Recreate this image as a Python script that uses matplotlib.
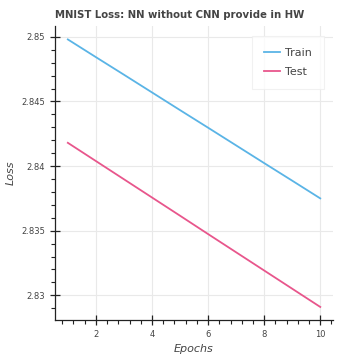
import matplotlib
matplotlib.use("Agg")
import matplotlib.pyplot as plt
from matplotlib.ticker import MultipleLocator

# loss per epoch
epochs = [1, 2, 3, 4, 5, 6, 7, 8, 9, 10]
train_loss = [2.8498, 2.84843, 2.84707, 2.8457, 2.84433, 2.84297, 2.8416, 2.84023, 2.83887, 2.8375]
test_loss = [2.8418, 2.84039, 2.83898, 2.83757, 2.83616, 2.83474, 2.83333, 2.83192, 2.83051, 2.8291]

fig = plt.figure(figsize=(3.59, 3.59), dpi=100)
ax = fig.add_axes([0.153, 0.109, 0.775, 0.819])

ax.plot(epochs, train_loss, color='#5ab4e6', lw=1.3, label='Train')
ax.plot(epochs, test_loss, color='#e8568c', lw=1.3, label='Test')

ax.set_xlim(0.54, 10.46)
ax.set_ylim(2.8281, 2.85085)
ax.xaxis.set_major_locator(MultipleLocator(2))
ax.xaxis.set_minor_locator(MultipleLocator(0.4))
ax.yaxis.set_minor_locator(MultipleLocator(0.001))
ax.set_yticks([2.83, 2.835, 2.84, 2.845, 2.85])
ax.set_yticklabels(['2.83', '2.835', '2.84', '2.845', '2.85'])

ax.grid(True, which='major', color='#e9e9e9', lw=0.8)
ax.set_axisbelow(True)
for s in ['top', 'right']:
    ax.spines[s].set_visible(False)
for s in ['left', 'bottom']:
    ax.spines[s].set_color('#222222')
    ax.spines[s].set_linewidth(0.9)

ax.tick_params(which='major', direction='inout', length=7, width=0.9,
               labelsize=6, labelcolor='#444444', color='#222222')
ax.tick_params(which='minor', direction='out', length=3, width=0.8, color='#222222')

ax.set_title('MNIST Loss: NN without CNN provide in HW', fontsize=7.3,
             fontweight='bold', color='#444444', loc='left', pad=6)
ax.set_xlabel('Epochs', fontsize=8, style='italic', color='#444444')
ax.set_ylabel('Loss', fontsize=8, style='italic', color='#444444')

leg = ax.legend(loc='upper right', fontsize=8, frameon=True, fancybox=False,
                borderpad=1.1, labelspacing=0.8, handlelength=1.4,
                handletextpad=0.5, borderaxespad=0.0,
                bbox_to_anchor=(0.968, 0.966))
leg.get_frame().set_edgecolor('#eeeeee')
leg.get_frame().set_linewidth(0.8)
for t in leg.get_texts():
    t.set_color('#444444')

fig.savefig('out.png', dpi=100)
